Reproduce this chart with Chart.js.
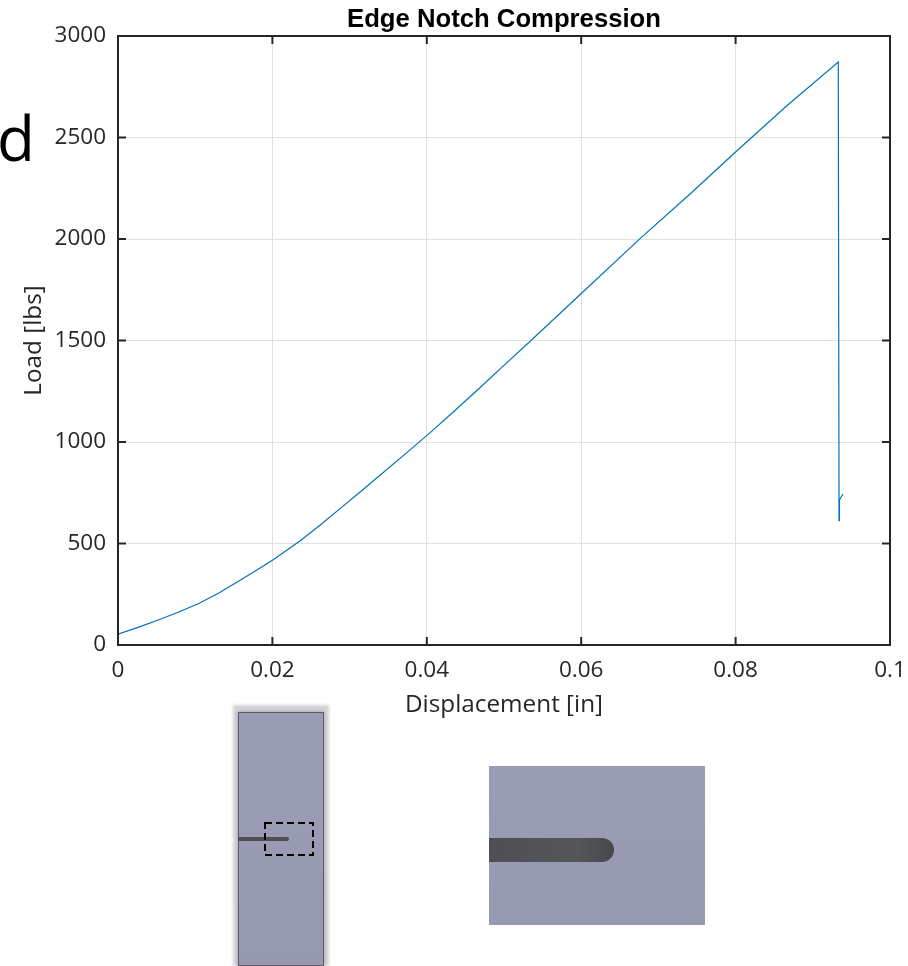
<!DOCTYPE html>
<html>
<head>
<meta charset="utf-8">
<title>Edge Notch Compression</title>
<script src="https://cdn.jsdelivr.net/npm/chart.js@4"></script>
<style>
  html, body { margin: 0; padding: 0; background: #fff; overflow: hidden; }
  #wrap { position: relative; width: 908px; height: 966px; }
  #wrap canvas { position: absolute; left: 0; top: 0; }
  .abs { position: absolute; box-sizing: border-box; }
  #letter { left: -3px; top: 97px; font: 62px/80px "Open Sans", sans-serif; color: #000; }
  #glow { left: 233px; top: 705px; width: 96px; height: 261px; background: #d2d2d6; filter: blur(1.5px); }
  #part { left: 238px; top: 712px; width: 86px; height: 254px; background: linear-gradient(#9a9db5, #9799b1); border: 1.5px solid #5a5c68; box-shadow: 0 0 3px #9a9aa0; }
  #slit { left: 238px; top: 836.5px; width: 51px; height: 4.5px; background: #4f5056; border-radius: 0 2px 2px 0; }
  #box { left: 264px; top: 822px; }
  #detail { left: 489px; top: 766px; width: 216px; height: 159px; background: linear-gradient(#9a9db5, #9799b1); }
  #notch { left: 489px; top: 837.5px; width: 125px; height: 24.5px; border-radius: 0 12px 12px 0;
           background: linear-gradient(90deg, #4e4e54, #55565a 70%, #47484e); }
</style>
</head>
<body>
<div id="wrap">
  <canvas id="loadChart" width="908" height="966"></canvas>
  <div class="abs" id="letter">d</div>
  <div class="abs" id="glow"></div>
  <div class="abs" id="part"></div>
  <div class="abs" id="slit"></div>
  <svg class="abs" id="box" width="50" height="34"><rect x="1" y="1" width="48" height="32" fill="none" stroke="#000" stroke-width="2" stroke-dasharray="7 4"/></svg>
  <div class="abs" id="detail"></div>
  <div class="abs" id="notch"></div>
</div>
<script>
// Values
const displacement = [0, 0.0026, 0.0052, 0.0078, 0.0104, 0.013, 0.0155, 0.0181, 0.0201, 0.0236, 0.0262, 0.0288, 0.0314, 0.0339, 0.0378, 0.0404, 0.0435, 0.0467, 0.0501, 0.0536, 0.0598, 0.0678, 0.0741, 0.0801, 0.0866, 0.0933, 0.0934, 0.0934, 0.0935, 0.0939];
const load = [53, 87, 123, 161, 203, 255, 312, 372, 420, 514, 591, 673, 755, 835, 960, 1045, 1150, 1261, 1381, 1504, 1724, 2008, 2222, 2432, 2655, 2872, 612, 700, 714, 744];
const xTickValues = [0, 0.02, 0.04, 0.06, 0.08, 0.1];
const yTickValues = [0, 500, 1000, 1500, 2000, 2500, 3000];

const INK = '#262626';
const tickFont = { family: '"Open Sans", sans-serif', size: 22.5 };
const labelFont = { family: '"Open Sans", sans-serif', size: 24.3 };

// Kort inre tick-markering + ram runt plottytan
const boxTicks = {
  id: 'boxTicks',
  afterDatasetsDraw(chart) {
    const { ctx, chartArea: a, scales } = chart;
    ctx.save();
    ctx.strokeStyle = INK;
    ctx.lineWidth = 2;
    ctx.strokeRect(a.left, a.top, a.right - a.left, a.bottom - a.top);
    ctx.beginPath();
    scales.x.ticks.forEach(t => {
      const x = scales.x.getPixelForValue(t.value);
      ctx.moveTo(x, a.bottom); ctx.lineTo(x, a.bottom - 8);
      ctx.moveTo(x, a.top); ctx.lineTo(x, a.top + 8);
    });
    scales.y.ticks.forEach(t => {
      const y = scales.y.getPixelForValue(t.value);
      ctx.moveTo(a.left, y); ctx.lineTo(a.left + 8, y);
      ctx.moveTo(a.right, y); ctx.lineTo(a.right - 8, y);
    });
    ctx.stroke();
    ctx.restore();
  }
};

new Chart(document.getElementById('loadChart').getContext('2d'), {
  type: 'scatter',
  data: {
    datasets: [{
      label: 'Load',
      data: displacement.map((d, i) => ({ x: d, y: load[i] })),
      showLine: true,
      borderColor: '#0072BD',
      borderWidth: 1.2,
      pointRadius: 0,
      tension: 0,
    }],
  },
  options: {
    responsive: false,
    animation: false,
    layout: { padding: { top: 0, right: 18, bottom: 246, left: 0 } },
    plugins: {
      legend: { display: false },
      tooltip: { enabled: false },
      title: {
        display: true,
        fullSize: false,
        text: 'Edge Notch Compression',
        color: '#000',
        font: { family: '"Liberation Sans", Arial, sans-serif', size: 25.7, weight: 'bold', lineHeight: 1 },
        padding: { top: 7, bottom: 3.3 },
      },
    },
    scales: {
      x: {
        type: 'linear',
        min: 0,
        max: 0.1,
        afterBuildTicks: s => { s.ticks = xTickValues.map(v => ({ value: v })); },
        afterFit: s => { s.height = 75; s.paddingRight = 0; s.paddingLeft = 0; },
        grid: { color: '#e2e2e2', lineWidth: 1, drawTicks: false },
        border: { display: false },
        ticks: { color: INK, font: tickFont, padding: 12, maxRotation: 0, callback: v => String(v) },
        title: { display: true, text: 'Displacement [in]', color: INK, font: labelFont, padding: { top: 2, bottom: 0 } },
      },
      y: {
        type: 'linear',
        min: 0,
        max: 3000,
        afterBuildTicks: s => { s.ticks = yTickValues.map(v => ({ value: v })); },
        afterFit: s => { s.width = 118; },
        grid: { color: '#e2e2e2', lineWidth: 1, drawTicks: false },
        border: { display: false },
        ticks: { color: INK, font: tickFont, padding: 12, callback: v => String(v) },
        title: { display: true, text: 'Load [lbs]', color: INK, font: labelFont, padding: { top: 19, bottom: 0 } },
      },
    },
  },
  plugins: [boxTicks],
});
</script>
</body>
</html>
